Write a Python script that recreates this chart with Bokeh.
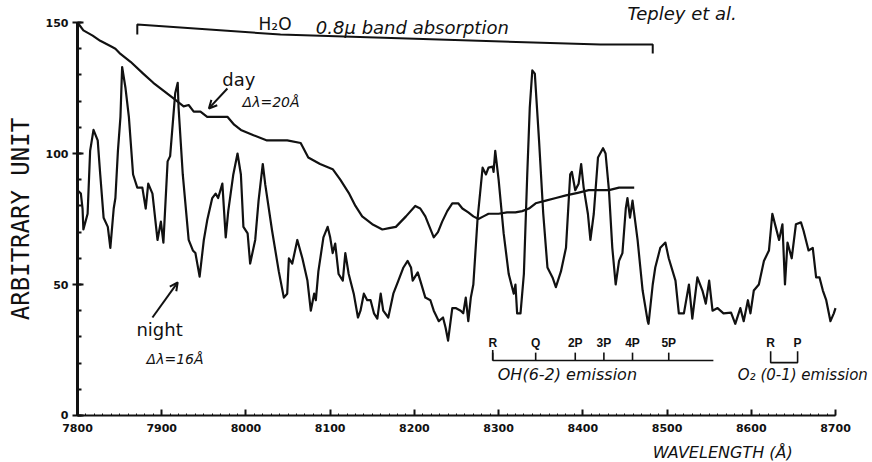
from bokeh.plotting import figure
from bokeh.models import Range1d, Label, Arrow, OpenHead, FixedTicker
from bokeh.embed import file_html
from bokeh.resources import INLINE

# ---- spectra (wavelength in Angstrom, intensity in arbitrary units) ----
day_wl = [7800, 7807, 7818, 7827, 7839, 7845, 7851, 7863, 7878, 7890, 7902,
          7914, 7926, 7932, 7938, 7946, 7954, 7966, 7978, 7986, 7994, 8009,
          8025, 8037, 8049, 8065, 8074, 8088, 8103, 8112, 8122, 8130, 8138,
          8150, 8162, 8170, 8178, 8190, 8201, 8207, 8213, 8218, 8223, 8228,
          8233, 8239, 8245, 8252, 8257, 8264, 8270, 8276, 8282, 8288, 8300,
          8310, 8320, 8328, 8336, 8344, 8356, 8368, 8380, 8394, 8407, 8420,
          8431, 8443, 8461]
day_val = [150, 147, 145, 143, 141, 140, 138, 135, 130.5, 127, 124,
           121, 118, 118.5, 116, 116, 114, 114, 114, 111, 109, 107,
           105, 105, 105, 104, 98.5, 96, 94, 90, 85, 80, 76,
           73, 71, 71.5, 72, 76, 80, 79, 76, 72, 68, 70,
           74, 78, 81, 81, 79, 77.5, 76, 75, 76, 77, 77,
           77.5, 77.5, 78, 79, 81, 82, 83, 84, 85, 86, 86,
           86, 87, 87]

night_wl = [7800, 7804, 7806, 7807, 7812, 7815, 7819, 7824, 7827, 7831, 7836,
            7839, 7843, 7845, 7848, 7851, 7853, 7857, 7861, 7866, 7871, 7877,
            7881, 7884, 7889, 7895, 7899, 7902, 7907, 7910, 7914, 7916, 7919,
            7920, 7925, 7932, 7937, 7940, 7945, 7950, 7954, 7960, 7964, 7967,
            7972, 7976, 7979, 7985, 7990, 7994, 7997, 8002, 8005, 8011, 8015,
            8020, 8023, 8031, 8039, 8045, 8049, 8051, 8055, 8061, 8067, 8073,
            8077, 8081, 8083, 8086, 8092, 8097, 8100, 8103, 8106, 8110, 8115,
            8118, 8122, 8128, 8133, 8136, 8140, 8144, 8148, 8152, 8156, 8160,
            8163, 8169, 8175, 8181, 8187, 8192, 8196, 8198, 8204, 8207, 8213,
            8219, 8223, 8229, 8234, 8237, 8240, 8245, 8249, 8255, 8258, 8261,
            8264, 8267, 8270, 8275, 8281, 8285, 8288, 8293, 8294, 8296, 8300,
            8306, 8312, 8318, 8320, 8322, 8326, 8330, 8334, 8337, 8340, 8343,
            8348, 8353, 8358, 8364, 8368, 8374, 8380, 8385, 8387, 8391, 8395,
            8398, 8401, 8406, 8409, 8413, 8418, 8424, 8427, 8431, 8435, 8439,
            8443, 8447, 8451, 8453, 8456, 8459, 8465, 8471, 8477, 8478, 8483,
            8486, 8492, 8498, 8502, 8510, 8514, 8520, 8526, 8530, 8536, 8542,
            8546, 8550, 8554, 8560, 8567, 8576, 8581, 8587, 8591, 8596, 8599,
            8603, 8609, 8615, 8621, 8625, 8629, 8633, 8637, 8640, 8643, 8648,
            8653, 8659, 8662, 8668, 8673, 8677, 8681, 8685, 8689, 8694, 8698,
            8700]
night_val = [86, 84.7, 79, 71, 77, 101, 109, 105, 92, 75.5, 72,
             64, 79, 83, 101, 114, 133, 125, 114, 92, 87, 87,
             79, 88.5, 84.7, 67, 74, 66, 97, 99, 115, 123, 127,
             117.5, 92, 67, 63, 62, 53, 67, 74.5, 83, 84.7, 83,
             88.5, 68, 78, 92, 100, 92, 72, 69.5, 58, 67, 82,
             96, 88, 70.6, 55, 45, 46.5, 60, 58, 67, 60, 51.5,
             40, 46.5, 44, 55, 68, 72, 68, 62, 65.6, 54, 51.5,
             62, 54, 46.5, 37.4, 40, 46.5, 44, 44, 39, 37, 46.5,
             40, 37.4, 46.5, 51.5, 56.5, 59, 56.5, 51.5, 54.6, 51.5, 45,
             44, 40, 36, 37.4, 33.6, 28.6, 41, 41, 40, 39, 45,
             36, 45, 50, 75, 94.6, 92, 94.6, 95, 93, 101, 90,
             69.5, 54, 46.5, 50, 39, 39, 54, 92, 117.5, 131.7, 130.5,
             105, 77, 56.5, 52.7, 49, 55, 64, 92, 93, 86, 88.5,
             96, 87, 77, 67, 77, 98.5, 102, 100, 86, 64, 50,
             59, 62, 79, 83, 75.5, 82, 67, 47.7, 36, 35, 50,
             56.5, 64, 66, 60, 51.5, 39, 39, 50, 37, 52.7, 47.7,
             42.7, 51.5, 40, 41, 39, 39.3, 35, 41, 36, 44, 39,
             47.7, 50, 59, 63, 77, 72, 67, 73, 50, 66, 60,
             73, 73.7, 70.6, 63, 64, 52.7, 52.7, 47.7, 44, 36, 39,
             41]

# ---- band markers ----
oh_lines = ["R", "Q", "2P", "3P", "4P", "5P"]
oh_wl = [8293, 8344, 8391, 8425, 8459, 8502]
oh_band_end = 8555
o2_lines = ["R", "P"]
o2_wl = [8623, 8655]

# H2O absorption bracket (start / end wavelength)
h2o_start, h2o_end = 7871, 8483

y_ticks = [0, 50, 100, 150]
x_ticks = [7800, 7900, 8000, 8100, 8200, 8300, 8400, 8500, 8600, 8700]

INK = "#111111"
HAND = "DejaVu Sans"

# the plotting frame fills the whole canvas so that the notes written beyond
# the axes stay visible; both axes are bounded and cross at (7800, 0)
p = figure(width=872, height=462, output_backend="svg", toolbar_location=None,
           x_range=Range1d(7708.58, 8743.93), y_range=Range1d(-17.94, 158.4),
           min_border_left=0, min_border_right=0, min_border_top=0,
           min_border_bottom=0)
p.title.visible = False
p.outline_line_color = None
p.xgrid.visible = False
p.ygrid.visible = False
p.background_fill_color = "white"
p.border_fill_color = "white"

# axes
xa = p.xaxis[0]
xa.fixed_location = 0
xa.bounds = (7800, 8700)
xa.ticker = FixedTicker(ticks=x_ticks,
                        minor_ticks=list(range(7800, 8701, 10)))
xa.axis_line_width = 2
xa.axis_line_color = INK
xa.major_tick_in = 6
xa.major_tick_out = 0
xa.minor_tick_in = 2
xa.minor_tick_out = 0
xa.major_tick_line_width = 2
xa.major_tick_line_color = INK
xa.minor_tick_line_color = INK
xa.minor_tick_line_width = 1
xa.major_label_standoff = 9
xa.major_label_text_font = HAND
xa.major_label_text_font_style = "bold"
xa.major_label_text_font_size = "11px"
xa.major_label_text_color = INK

ya = p.yaxis[0]
ya.fixed_location = 7800
ya.bounds = (0, 150)
ya.ticker = FixedTicker(ticks=y_ticks, minor_ticks=list(range(0, 151, 10)))
ya.axis_line_width = 3
ya.axis_line_color = INK
ya.major_tick_in = 6
ya.major_tick_out = 5
ya.minor_tick_in = 4
ya.minor_tick_out = 0
ya.major_tick_line_width = 2
ya.major_tick_line_color = INK
ya.minor_tick_line_color = INK
ya.minor_tick_line_width = 2
ya.major_label_standoff = 4
ya.major_label_text_font = HAND
ya.major_label_text_font_style = "bold"
ya.major_label_text_font_size = "11px"
ya.major_label_text_color = INK
ya.axis_label = "ARBITRARY UNIT"
ya.axis_label_text_font = "DejaVu Sans Mono"
ya.axis_label_text_font_style = "normal"
ya.axis_label_text_font_size = "24px"
ya.axis_label_text_color = INK
ya.axis_label_standoff = 8

# spectra
p.line(day_wl, day_val, line_color=INK, line_width=2.2, line_join="round")
p.line(night_wl, night_val, line_color=INK, line_width=2.2, line_join="round")

# H2O 0.8 micron absorption bracket
p.line([h2o_start, h2o_start, 8041, 8421, h2o_end, h2o_end],
       [145.4, 149.2, 145.4, 141.6, 141.6, 138.2],
       line_color=INK, line_width=2)

# OH (6-2) band marker
p.line([oh_wl[0], oh_band_end], [21, 21], line_color=INK, line_width=1.6)
p.segment(x0=oh_wl, y0=[21] * len(oh_wl), x1=oh_wl, y1=[24] * len(oh_wl),
          line_color=INK, line_width=1.6)
p.segment(x0=[oh_wl[0]], y0=[21], x1=[oh_wl[0]], y1=[25],
          line_color=INK, line_width=1.6)
p.text(x=oh_wl, y=[27.6] * len(oh_wl), text=oh_lines, text_align="center",
       text_baseline="alphabetic", text_font_size="12px",
       text_font_style="bold", text_color=INK)

# O2 (0-1) band marker
p.line([o2_wl[0], o2_wl[0], o2_wl[1], o2_wl[1]], [24.5, 20.2, 20.2, 24.5],
       line_color=INK, line_width=1.6)
p.text(x=o2_wl, y=[27.6] * len(o2_wl), text=o2_lines, text_align="center",
       text_baseline="alphabetic", text_font_size="12px",
       text_font_style="bold", text_color=INK)


def note(x, y, txt, size, style="normal", font=HAND):
    p.add_layout(Label(x=x, y=y, text=txt, text_font=font,
                       text_font_size=size, text_font_style=style,
                       text_color=INK, text_align="left",
                       text_baseline="alphabetic"))


note(8453, 153.6, "Tepley  et al.", "18px", "italic")
note(8015, 149.4, "H\u2082O", "17px")
note(8083, 148.2, "0.8\u03bc band absorption", "18px", "italic")
note(7972, 128.4, "day", "18px")
note(7996, 119.6, "\u0394\u03bb=20\u00c5", "14px", "italic")
note(7870, 32.9, "night", "18px")
note(7882, 21.5, "\u0394\u03bb=16\u00c5", "14px", "italic")
note(8299, 15.8, "OH(6-2)  emission", "16px", "italic")
note(8584, 15.4, "O\u2082 (0-1) emission", "15px", "italic")
note(8483, -14.0, "WAVELENGTH  (\u00c5)", "16px", "italic")

# pointers to the two traces
p.add_layout(Arrow(x_start=7978, y_start=124.8, x_end=7956, y_end=117.2,
                   line_color=INK, line_width=2,
                   end=OpenHead(size=8, line_color=INK, line_width=2)))
p.add_layout(Arrow(x_start=7889, y_start=37.4, x_end=7919, y_end=50.8,
                   line_color=INK, line_width=2,
                   end=OpenHead(size=8, line_color=INK, line_width=2)))

open("out.html", "w").write(file_html(p, INLINE))
